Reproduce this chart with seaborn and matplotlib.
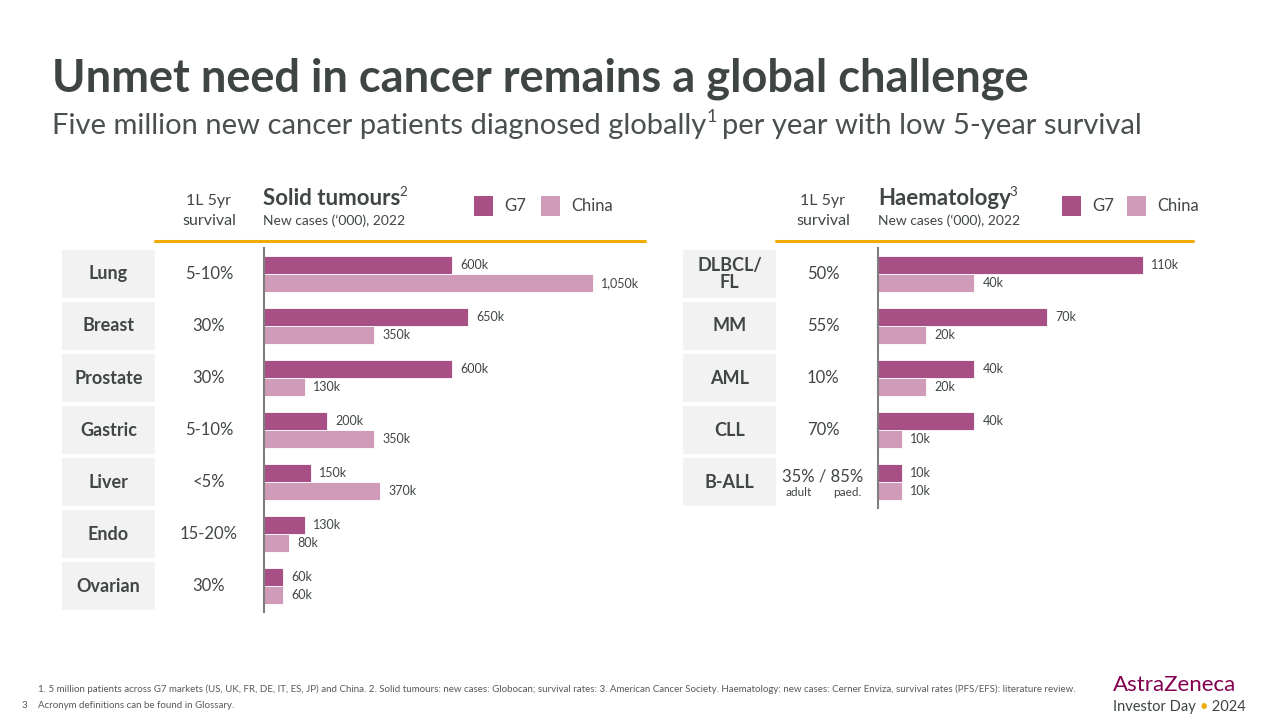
import matplotlib
matplotlib.use("Agg")
import matplotlib.pyplot as plt
import seaborn as sns
import pandas as pd
from matplotlib.patches import Rectangle
from matplotlib.lines import Line2D

# ---------------- data ----------------
solid_cats = ["Lung", "Breast", "Prostate", "Gastric", "Liver", "Endo", "Ovarian"]
solid_surv = ["5-10%", "30%", "30%", "5-10%", "<5%", "15-20%", "30%"]
solid_g7 = [600, 650, 600, 200, 150, 130, 60]
solid_china = [1050, 350, 130, 350, 370, 80, 60]

haem_cats = ["DLBCL/\nFL", "MM", "AML", "CLL", "B-ALL"]
haem_surv = ["50%", "55%", "10%", "70%", "35% / 85%"]
haem_g7 = [110, 70, 40, 40, 10]
haem_china = [40, 20, 20, 10, 10]

regions = ["G7", "China"]
footnote1 = ("1. 5 million patients across G7 markets (US, UK, FR, DE, IT, ES, JP) and China. 2. Solid tumours: new cases: Globocan; "
             "survival rates: 3. American Cancer Society. Haematology: new cases: Cerner Enviza, survival rates (PFS/EFS): literature review.")
footnote2 = "Acronym definitions can be found in Glossary."

# ---------------- style ----------------
C_G7 = "#a84f86"
C_CN = "#d09ab9"
C_TXT = "#404545"
C_GOLD = "#f0ab00"
C_BOX = "#f2f2f2"

sns.set_theme(style="white")
plt.rcParams["font.family"] = ["Lato", "DejaVu Sans"]

W, H = 1280, 720
fig = plt.figure(figsize=(12.8, 7.2), dpi=100)
fig.patch.set_facecolor("white")


def fx(px):
    return px / W


def fy(py):
    return 1 - py / H


def long_df(cats, g7, cn):
    rows = []
    for c, a, b in zip(cats, g7, cn):
        rows.append({"cat": c, "region": "G7", "val": a})
        rows.append({"cat": c, "region": "China", "val": b})
    return pd.DataFrame(rows)


def fmt(v):
    return f"{v:,}k"


def draw_panel(left_px, right_px, top_px, bottom_px, cats, g7, cn, xmax):
    ax = fig.add_axes([fx(left_px), fy(bottom_px), fx(right_px - left_px), (bottom_px - top_px) / H])
    df = long_df(cats, g7, cn)
    sns.barplot(data=df, y="cat", x="val", hue="region", hue_order=regions,
                palette=[C_G7, C_CN], orient="h", width=0.7, saturation=1,
                ax=ax, legend=False, edgecolor="white", linewidth=0.6)
    ax.set_xlim(0, xmax)
    ax.set_ylim(len(cats) - 0.5, -0.5)
    for s in ["top", "right", "bottom"]:
        ax.spines[s].set_visible(False)
    ax.spines["left"].set_color("#7f7f7f")
    ax.spines["left"].set_linewidth(1.5)
    ax.set_xticks([])
    ax.set_yticks([])
    ax.set_xlabel("")
    ax.set_ylabel("")
    ax.patch.set_alpha(0)
    for cont, vals in zip(ax.containers, [g7, cn]):
        ax.bar_label(cont, labels=[fmt(v) for v in vals], padding=6,
                     fontsize=9, color=C_TXT)
    return ax


# left panel: axis at x=264, 0.3133 px per k
ax1 = draw_panel(264, 640, 248, 612, solid_cats, solid_g7, solid_china, (640 - 264) / 0.3133)
# right panel: axis at x=878, 2.41 px per k
ax2 = draw_panel(878, 1193, 248, 508, haem_cats, haem_g7, haem_china, (1193 - 878) / 2.41)

# ---------------- row boxes and survival ----------------
def rows(cats, surv, box_x0, box_x1, surv_x):
    for i, (c, s) in enumerate(zip(cats, surv)):
        yc = 274 + 52 * i
        fig.patches.append(Rectangle((fx(box_x0), fy(yc + 24)), fx(box_x1 - box_x0), 48 / H,
                                     transform=fig.transFigure, facecolor=C_BOX, edgecolor="none"))
        fig.text(fx((box_x0 + box_x1) / 2), fy(yc), c, ha="center", va="center",
                 fontsize=13, fontweight="bold", color=C_TXT, linespacing=1.0)
        if " / " in s:
            fig.text(fx(surv_x), fy(yc - 6), s, ha="center", va="center", fontsize=12, color=C_TXT)
            fig.text(fx(surv_x - 24), fy(yc + 11), "adult", ha="center", va="center", fontsize=8.5, color=C_TXT)
            fig.text(fx(surv_x + 24), fy(yc + 11), "paed.", ha="center", va="center", fontsize=8.5, color=C_TXT)
        else:
            fig.text(fx(surv_x), fy(yc), s, ha="center", va="center", fontsize=12, color=C_TXT)


rows(solid_cats, solid_surv, 62, 155, 209)
rows(haem_cats, haem_surv, 683, 776, 823)

# ---------------- headers ----------------
renderer = fig.canvas.get_renderer()


def text_with_sup(x_px, y_px, main, sup, size, weight="normal", color=C_TXT, sup_size=None, rise=10):
    t = fig.text(fx(x_px), fy(y_px), main, ha="left", va="baseline", fontsize=size,
                 fontweight=weight, color=color)
    bb = t.get_window_extent(renderer=renderer)
    fig.text(bb.x1 / W - 0.0008, fy(y_px - rise), sup, ha="left", va="baseline",
             fontsize=sup_size or size * 0.6, fontweight="normal", color=color)


def header(surv_x, title_x, title, sup, leg_x, line_x0, line_x1):
    fig.text(fx(surv_x), fy(201), "1L 5yr", ha="center", va="center", fontsize=11.5, color=C_TXT)
    fig.text(fx(surv_x), fy(221), "survival", ha="center", va="center", fontsize=11.5, color=C_TXT)
    text_with_sup(title_x, 205, title, sup, 16, weight="bold", rise=9)
    fig.text(fx(title_x), fy(221), "New cases (\u2018000), 2022", ha="left", va="center", fontsize=10, color=C_TXT)
    # legend
    for k, (lab, col) in enumerate(zip(regions, [C_G7, C_CN])):
        x0 = leg_x[k]
        fig.patches.append(Rectangle((fx(x0), fy(216)), fx(19), 20 / H, transform=fig.transFigure,
                                     facecolor=col, edgecolor="none"))
        fig.text(fx(x0 + 30), fy(206), lab, ha="left", va="center", fontsize=12, color=C_TXT)
    fig.lines.append(Line2D([fx(line_x0), fx(line_x1)], [fy(241), fy(241)], transform=fig.transFigure,
                            color=C_GOLD, linewidth=2.2))


header(209, 263, "Solid tumours", "2", [474, 541], 155, 645)
header(823, 878, "Haematology", "3", [1062, 1127], 776, 1193)

# ---------------- title ----------------
fig.text(fx(52), fy(91), "Unmet need in cancer remains a global challenge", ha="left", va="baseline",
         fontsize=32.5, fontweight="bold", color="#3f4444")
sub = fig.text(fx(52), fy(134), "Five million new cancer patients diagnosed globally", ha="left", va="baseline",
               fontsize=21, color="#4a4f4f")
bb = sub.get_window_extent(renderer=renderer)
sup1 = fig.text(bb.x1 / W + 0.0003, fy(134) + 12 / H, "1", ha="left", va="baseline", fontsize=13, color="#4a4f4f")
bb2 = sup1.get_window_extent(renderer=renderer)
fig.text(bb2.x1 / W + 0.004, fy(134), "per year with low 5-year survival", ha="left", va="baseline",
         fontsize=21, color="#4a4f4f")

# ---------------- footer ----------------
fig.text(fx(38), fy(689), footnote1, ha="left", va="center", fontsize=7, color="#595959")
fig.text(fx(38), fy(705), footnote2, ha="left", va="center", fontsize=7, color="#595959")
fig.text(fx(22), fy(705), "3", ha="left", va="center", fontsize=7, color="#595959")

fig.text(fx(1113), fy(691), "AstraZeneca", ha="left", va="baseline", fontsize=16, color="#830051")
inv = fig.text(fx(1113), fy(711), "Investor Day ", ha="left", va="baseline", fontsize=10.5, color="#3f4444")
bbi = inv.get_window_extent(renderer=renderer)
dot = fig.text(bbi.x1 / W, fy(711), "\u2022", ha="left", va="baseline", fontsize=10.5, color=C_GOLD)
bbd = dot.get_window_extent(renderer=renderer)
fig.text(bbd.x1 / W, fy(711), " 2024", ha="left", va="baseline", fontsize=10.5, color="#3f4444")

fig.savefig("out.png", dpi=100, facecolor="white")
